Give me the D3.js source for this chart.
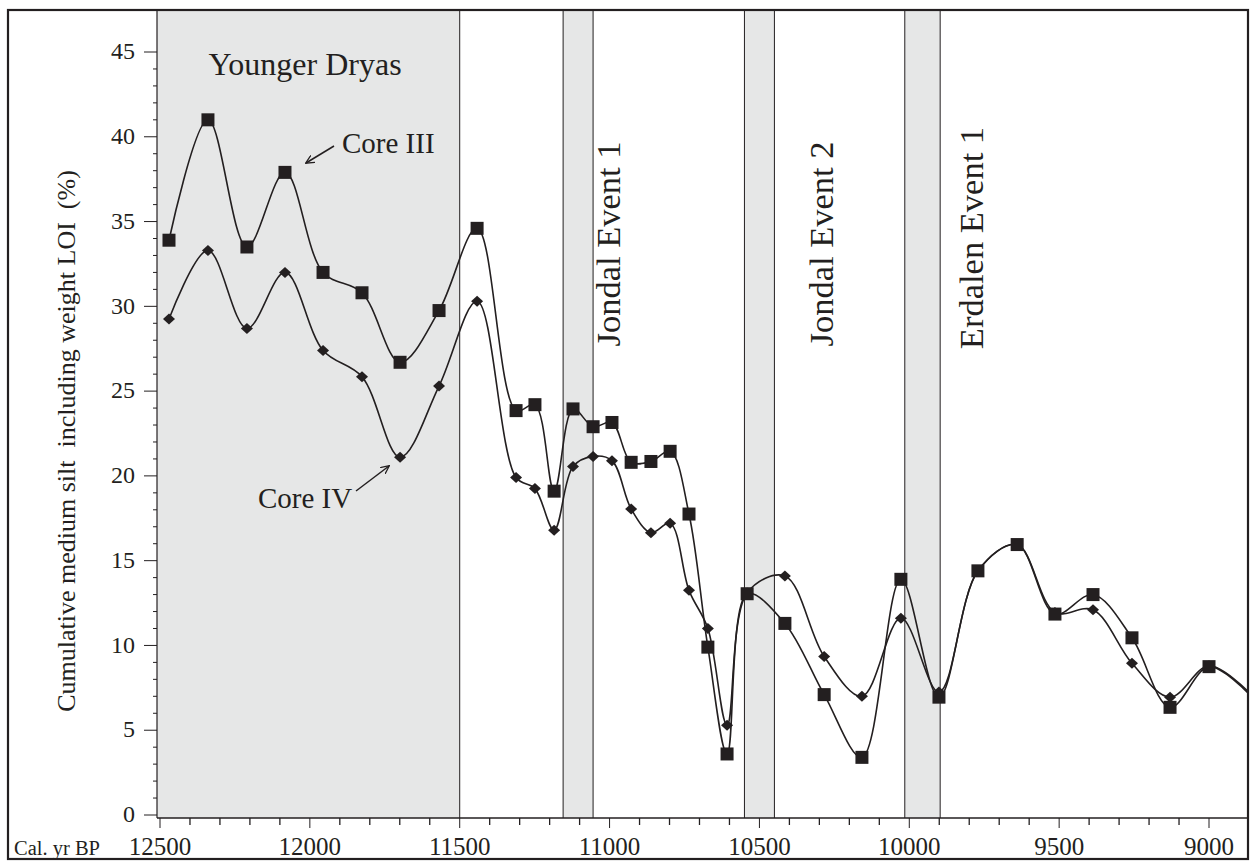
<!DOCTYPE html>
<html>
<head>
<meta charset="utf-8">
<script src="https://cdn.jsdelivr.net/npm/d3@7"></script>
<style>
  html, body { margin: 0; padding: 0; background: #ffffff; }
  svg { display: block; }
  text { font-family: "Liberation Serif", "Times New Roman", serif; fill: #231f20; }
</style>
</head>
<body>
<svg id="chart" width="1250" height="861"></svg>
<script>
// ---------------- DATA ----------------
const years = [12470, 12340, 12210, 12083, 11956, 11826, 11699, 11569, 11442, 11312,
               11249, 11185, 11122, 11055, 10992, 10928, 10862, 10798, 10735, 10672,
               10608, 10541, 10415, 10284, 10158, 10028, 9901, 9771, 9640, 9514,
               9387, 9257, 9130, 9000];
const coreIII = [33.9, 41.0, 33.5, 37.9, 32.0, 30.8, 26.7, 29.75, 34.6, 23.85,
                 24.2, 19.1, 23.95, 22.9, 23.15, 20.8, 20.85, 21.45, 17.75, 9.9,
                 3.6, 13.05, 11.3, 7.1, 3.4, 13.9, 6.95, 14.4, 15.95, 11.85,
                 13.0, 10.45, 6.35, 8.75];
const coreIV = [29.25, 33.3, 28.7, 32.0, 27.4, 25.85, 21.1, 25.3, 30.3, 19.9,
                19.25, 16.8, 20.55, 21.15, 20.9, 18.05, 16.65, 17.2, 13.25, 11.0,
                5.3, 13.1, 14.1, 9.35, 7.0, 11.6, 7.25, 14.4, 15.95, 11.95,
                12.1, 8.95, 6.95, 8.8];
// line continues (unmarked) to the right edge of the plot
const tailYear = 8870;
const tailIII = 7.2;
const tailIV = 7.3;

const xMajorTicks = [12500, 12000, 11500, 11000, 10500, 10000, 9500, 9000];
const yMajorTicks = [0, 5, 10, 15, 20, 25, 30, 35, 40, 45];

const eventNames = ["Younger Dryas", "Jondal Event 1", "Jondal Event 2", "Erdalen Event 1"];
const eventStart = [12510, 11155, 10550, 10015];
const eventEnd   = [11500, 11055, 10450, 9897];

const seriesNames = ["Core III", "Core IV"];

// ---------------- LAYOUT ----------------
const svg = d3.select("#chart");
const plot = { left: 157, right: 1248, top: 10, bottom: 818 };
const ink = "#231f20";

const x = d3.scaleLinear().domain([12500, 9000]).range([160, 1209]);
const y = d3.scaleLinear().domain([0, 45]).range([815, 52]);

// clip
svg.append("defs").append("clipPath").attr("id", "clip")
  .append("rect")
  .attr("x", plot.left).attr("y", plot.top)
  .attr("width", plot.right - plot.left).attr("height", plot.bottom - plot.top);

// event shading
const events = eventNames.map((n, i) => ({ name: n, from: eventStart[i], to: eventEnd[i] }));
const shade = svg.append("g").attr("clip-path", "url(#clip)");
shade.selectAll("rect").data(events).join("rect")
  .attr("x", d => x(d.from))
  .attr("y", plot.top)
  .attr("width", d => x(d.to) - x(d.from))
  .attr("height", plot.bottom - plot.top)
  .attr("fill", "#e6e7e7");

// event boundary lines
const bounds = [];
events.forEach((d, i) => { if (i > 0) bounds.push(d.from); bounds.push(d.to); });
shade.selectAll("line").data(bounds).join("line")
  .attr("x1", d => x(d)).attr("x2", d => x(d))
  .attr("y1", plot.top).attr("y2", plot.bottom)
  .attr("stroke", ink).attr("stroke-width", 1);

// axes
const xMinor = d3.range(12500, 9050, -100).filter(v => !xMajorTicks.includes(v));
const yMinor = d3.range(1, 45, 1).filter(v => !yMajorTicks.includes(v));

const xAxisG = svg.append("g").attr("transform", `translate(0,${plot.bottom})`);
xAxisG.append("line")
  .attr("x1", plot.left).attr("x2", plot.right).attr("y1", 0).attr("y2", 0)
  .attr("stroke", ink).attr("stroke-width", 1.5);
xAxisG.selectAll("line.minor").data(xMinor).join("line").attr("class", "minor")
  .attr("x1", d => x(d)).attr("x2", d => x(d)).attr("y1", 0).attr("y2", 7)
  .attr("stroke", ink).attr("stroke-width", 1.3);
xAxisG.selectAll("line.major").data(xMajorTicks).join("line").attr("class", "major")
  .attr("x1", d => x(d)).attr("x2", d => x(d)).attr("y1", 0).attr("y2", 10)
  .attr("stroke", ink).attr("stroke-width", 1);
xAxisG.selectAll("text").data(xMajorTicks).join("text")
  .attr("x", d => x(d)).attr("y", 37)
  .attr("text-anchor", "middle")
  .attr("font-size", 25)
  .text(d => d);

const yAxisG = svg.append("g").attr("transform", `translate(${plot.left},0)`);
yAxisG.append("line")
  .attr("x1", 0).attr("x2", 0).attr("y1", plot.top).attr("y2", plot.bottom)
  .attr("stroke", ink).attr("stroke-width", 1.2);
yAxisG.selectAll("line.minor").data(yMinor).join("line").attr("class", "minor")
  .attr("x1", -4).attr("x2", 0).attr("y1", d => y(d)).attr("y2", d => y(d))
  .attr("stroke", ink).attr("stroke-width", 1);
yAxisG.selectAll("line.major").data(yMajorTicks).join("line").attr("class", "major")
  .attr("x1", -13).attr("x2", 0).attr("y1", d => y(d)).attr("y2", d => y(d))
  .attr("stroke", ink).attr("stroke-width", 1);
yAxisG.selectAll("text").data(yMajorTicks).join("text")
  .attr("x", -22).attr("y", d => y(d))
  .attr("dy", "0.3em")
  .attr("text-anchor", "end")
  .attr("font-size", 24)
  .text(d => d);

// axis titles
svg.append("text")
  .attr("transform", "translate(75,441) rotate(-90)")
  .attr("text-anchor", "middle")
  .attr("font-size", 26)
  .attr("xml:space", "preserve")
  .style("white-space", "pre")
  .text("Cumulative medium silt  including weight LOI  (%)");

svg.append("text")
  .attr("x", 14).attr("y", 855)
  .attr("font-size", 20.5)
  .text("Cal. yr BP");

// series
const dataIII = years.map((yr, i) => ({ year: yr, v: coreIII[i] }));
const dataIV = years.map((yr, i) => ({ year: yr, v: coreIV[i] }));
const lineIII = dataIII.concat([{ year: tailYear, v: tailIII }]);
const lineIV = dataIV.concat([{ year: tailYear, v: tailIV }]);

const line = d3.line().x(d => x(d.year)).y(d => y(d.v)).curve(d3.curveCatmullRom.alpha(0.5));

const lines = svg.append("g").attr("clip-path", "url(#clip)");
lines.append("path").datum(lineIV).attr("d", line)
  .attr("fill", "none").attr("stroke", ink).attr("stroke-width", 1.6);
lines.append("path").datum(lineIII).attr("d", line)
  .attr("fill", "none").attr("stroke", ink).attr("stroke-width", 1.6);

// markers
svg.append("g").selectAll("path").data(dataIV).join("path")
  .attr("d", d => {
    const cx = x(d.year), cy = y(d.v), w = 6, h = 5.5;
    return `M${cx},${cy - h}L${cx + w},${cy}L${cx},${cy + h}L${cx - w},${cy}Z`;
  })
  .attr("fill", ink);
svg.append("g").selectAll("rect").data(dataIII).join("rect")
  .attr("x", d => x(d.year) - 6.5).attr("y", d => y(d.v) - 6.5)
  .attr("width", 13).attr("height", 13)
  .attr("fill", ink);

// event labels
svg.append("text")
  .attr("x", 305).attr("y", 75)
  .attr("text-anchor", "middle")
  .attr("font-size", 32)
  .text(eventNames[0]);

const vLabels = [
  { name: eventNames[1], bx: 620, cy: 244 },
  { name: eventNames[2], bx: 833, cy: 244 },
  { name: eventNames[3], bx: 983, cy: 238 }
];
svg.selectAll("text.vlab").data(vLabels).join("text").attr("class", "vlab")
  .attr("transform", d => `translate(${d.bx},${d.cy}) rotate(-90)`)
  .attr("text-anchor", "middle")
  .attr("font-size", 34.5)
  .text(d => d.name);

// series labels with arrows
const defs = svg.select("defs");
defs.append("marker").attr("id", "arrow")
  .attr("viewBox", "0 0 10 10").attr("refX", 9).attr("refY", 5)
  .attr("markerWidth", 9).attr("markerHeight", 9)
  .attr("markerUnits", "userSpaceOnUse")
  .attr("orient", "auto")
  .append("path").attr("d", "M0,0.5L9.5,5L0,9.5")
  .attr("fill", "none").attr("stroke", ink).attr("stroke-width", 1.4);

svg.append("text").attr("x", 342).attr("y", 153).attr("font-size", 29).text(seriesNames[0]);
svg.append("line")
  .attr("x1", 334).attr("y1", 146).attr("x2", 306).attr("y2", 163)
  .attr("stroke", ink).attr("stroke-width", 1.5).attr("marker-end", "url(#arrow)");

svg.append("text").attr("x", 258).attr("y", 508).attr("font-size", 29).text(seriesNames[1]);
svg.append("line")
  .attr("x1", 356).attr("y1", 491).attr("x2", 389).attr("y2", 466)
  .attr("stroke", ink).attr("stroke-width", 1.5).attr("marker-end", "url(#arrow)");

// outer frame
svg.append("rect")
  .attr("x", 8).attr("y", 10).attr("width", 1240).attr("height", 849)
  .attr("fill", "none").attr("stroke", ink).attr("stroke-width", 2.2);
</script>
</body>
</html>
